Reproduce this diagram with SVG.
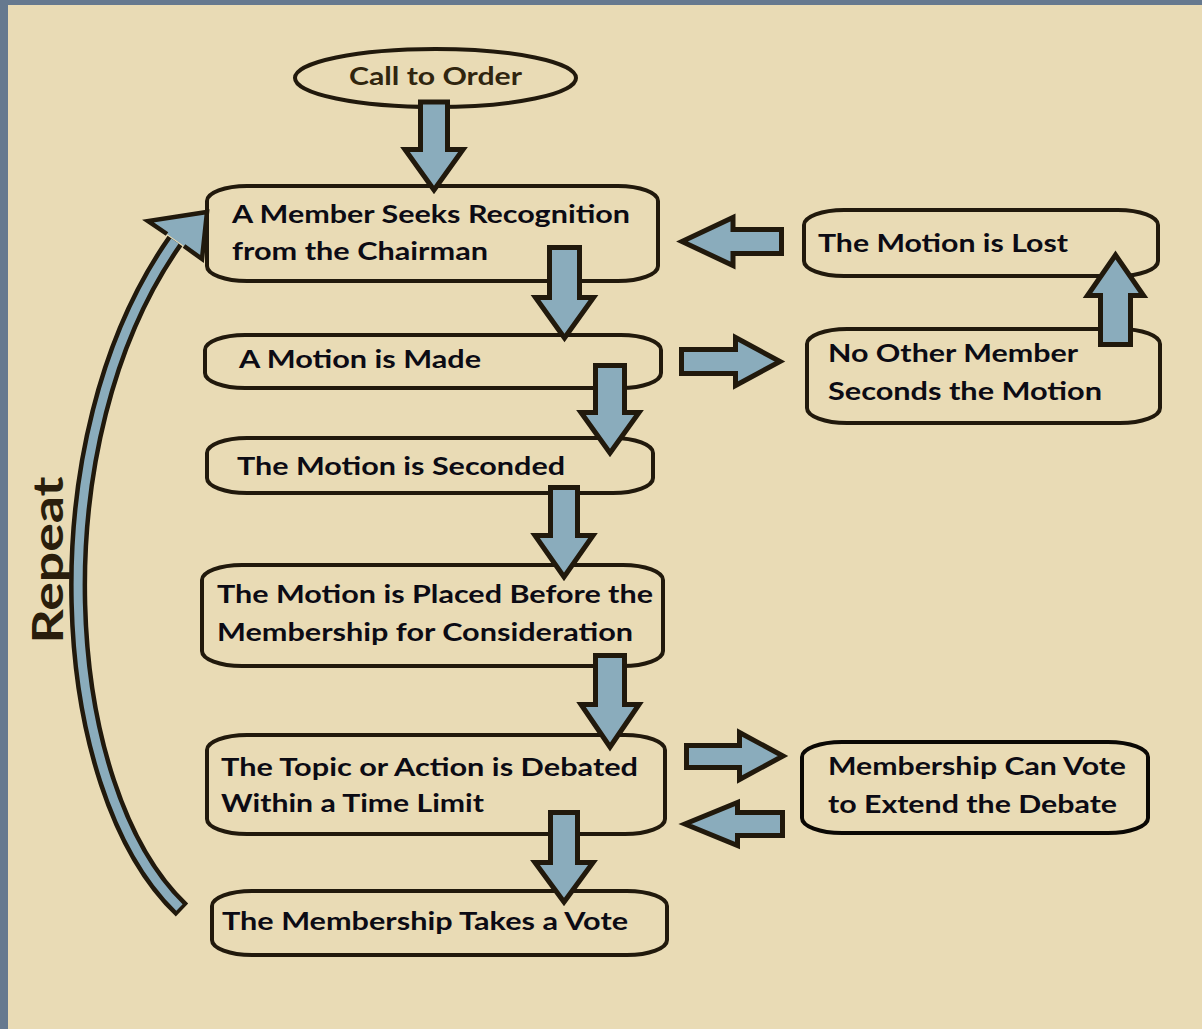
<svg xmlns="http://www.w3.org/2000/svg" width="1202" height="1029" viewBox="0 0 1202 1029">
<style>
.node rect, .node ellipse { fill: none; stroke: #21190c; stroke-width: 4; }
.t { font-family: Lato, "Open Sans", "Liberation Sans", sans-serif; font-weight: 700; font-size: 25px; fill: #0c0b14; }
.arr { fill: #8aacbc; stroke: #21190c; stroke-width: 5; stroke-linejoin: miter; stroke-miterlimit: 10; }
</style>
<rect x="0" y="0" width="1202" height="1029" fill="#e9dbb5"/>
<rect x="0" y="0" width="1202" height="5" fill="#66798f"/>
<rect x="0" y="0" width="8" height="1029" fill="#66798f"/>

<g id="n-call" class="node">
  <ellipse cx="435.5" cy="78" rx="140.5" ry="29"/>
  <text class="t" x="349" y="85" textLength="173" lengthAdjust="spacingAndGlyphs" style="fill:#30250f;font-size:24px">Call to Order</text>
</g>
<g id="n-seek" class="node">
  <rect x="207" y="186" width="451" height="95" rx="40" ry="15"/>
  <text class="t" x="232" y="223" textLength="398" lengthAdjust="spacingAndGlyphs">A Member Seeks Recognition</text>
  <text class="t" x="232" y="260" textLength="256" lengthAdjust="spacingAndGlyphs">from the Chairman</text>
</g>
<g id="n-made" class="node">
  <rect x="205" y="335" width="456" height="53" rx="40" ry="15"/>
  <text class="t" x="239" y="368" textLength="242" lengthAdjust="spacingAndGlyphs">A Motion is Made</text>
</g>
<g id="n-seconded" class="node">
  <rect x="207" y="438" width="446" height="55" rx="40" ry="15"/>
  <text class="t" x="237" y="475" textLength="328" lengthAdjust="spacingAndGlyphs">The Motion is Seconded</text>
</g>
<g id="n-placed" class="node">
  <rect x="202" y="565" width="461" height="101" rx="40" ry="15"/>
  <text class="t" x="217" y="603" textLength="436" lengthAdjust="spacingAndGlyphs">The Motion is Placed Before the</text>
  <text class="t" x="217" y="641" textLength="416" lengthAdjust="spacingAndGlyphs">Membership for Consideration</text>
</g>
<g id="n-debated" class="node">
  <rect x="207" y="735" width="458" height="99" rx="40" ry="15"/>
  <text class="t" x="221" y="776" textLength="417" lengthAdjust="spacingAndGlyphs">The Topic or Action is Debated</text>
  <text class="t" x="221" y="812" textLength="263" lengthAdjust="spacingAndGlyphs">Within a Time Limit</text>
</g>
<g id="n-vote" class="node">
  <rect x="212" y="891" width="455" height="64" rx="40" ry="15"/>
  <text class="t" x="222" y="930" textLength="406" lengthAdjust="spacingAndGlyphs">The Membership Takes a Vote</text>
</g>
<g id="n-lost" class="node">
  <rect x="804" y="210" width="354" height="66" rx="40" ry="15"/>
  <text class="t" x="818" y="252" textLength="250" lengthAdjust="spacingAndGlyphs">The Motion is Lost</text>
</g>
<g id="n-noother" class="node">
  <rect x="807" y="329" width="353" height="94" rx="40" ry="15"/>
  <text class="t" x="828" y="362" textLength="250" lengthAdjust="spacingAndGlyphs">No Other Member</text>
  <text class="t" x="828" y="400" textLength="274" lengthAdjust="spacingAndGlyphs">Seconds the Motion</text>
</g>
<g id="n-extend" class="node">
  <rect x="802" y="742" width="346" height="91" rx="40" ry="15" style="stroke:#0a0804"/>
  <text class="t" x="828" y="775" textLength="298" lengthAdjust="spacingAndGlyphs">Membership Can Vote</text>
  <text class="t" x="828" y="813" textLength="289" lengthAdjust="spacingAndGlyphs">to Extend the Debate</text>
</g>

<g id="connectors">
  <polygon class="arr" points="420.5,102 447.5,102 447.5,149.5 463,149.5 434,190 405,149.5 420.5,149.5"/>
  <polygon class="arr" points="549.5,247.5 579.5,247.5 579.5,297.5 593.5,297.5 564.5,338 535.5,297.5 549.5,297.5"/>
  <polygon class="arr" points="595.5,365.5 624.5,365.5 624.5,412.5 639,412.5 610,453 581,412.5 595.5,412.5"/>
  <polygon class="arr" points="550.5,487.5 577.5,487.5 577.5,535.5 593,535.5 564,577 535,535.5 550.5,535.5"/>
  <polygon class="arr" points="595.5,655.5 624.5,655.5 624.5,704.5 639,704.5 610,747 581,704.5 595.5,704.5"/>
  <polygon class="arr" points="550.5,812.5 577.5,812.5 577.5,862.5 593,862.5 564,902 535,862.5 550.5,862.5"/>
  <polygon class="arr" points="1100.5,344.5 1130.5,344.5 1130.5,295.5 1143.5,295.5 1115.5,255 1087.5,295.5 1100.5,295.5"/>
  <polygon class="arr" points="781.5,229.5 733,229.5 733,217.5 682,241.5 733,265.5 733,253.5 781.5,253.5"/>
  <polygon class="arr" points="681.5,349.5 735.5,349.5 735.5,337.5 780,361.5 735.5,385.5 735.5,373.5 681.5,373.5"/>
  <polygon class="arr" points="686.5,745.5 739.5,745.5 739.5,732.5 783,756 739.5,779.5 739.5,767.5 686.5,767.5"/>
  <polygon class="arr" points="782.5,812.5 737.5,812.5 737.5,802.5 685,824 737.5,845.5 737.5,835.5 782.5,835.5"/>
  <g id="repeat-arrow">
    <path d="M182,910 C55,790 35,440 175,241" fill="none" stroke="#21190c" stroke-width="18"/>
    <path d="M182,910 C55,790 35,440 175,241" fill="none" stroke="#8aacbc" stroke-width="9" pathLength="1000" stroke-dasharray="0 5 995 100"/>
    <path d="M167,234 L148,221 L207,212 L202,259 L184,246" fill="#8aacbc" stroke="#21190c" stroke-width="4.5" stroke-linejoin="miter"/>
  </g>
</g>
<text x="0" y="0" transform="translate(63,560) rotate(-90)" text-anchor="middle" textLength="167" lengthAdjust="spacingAndGlyphs" style="font-family:Lato,'Open Sans','Liberation Sans',sans-serif;font-weight:700;font-size:42px;fill:#2a1e0c">Repeat</text>
</svg>
